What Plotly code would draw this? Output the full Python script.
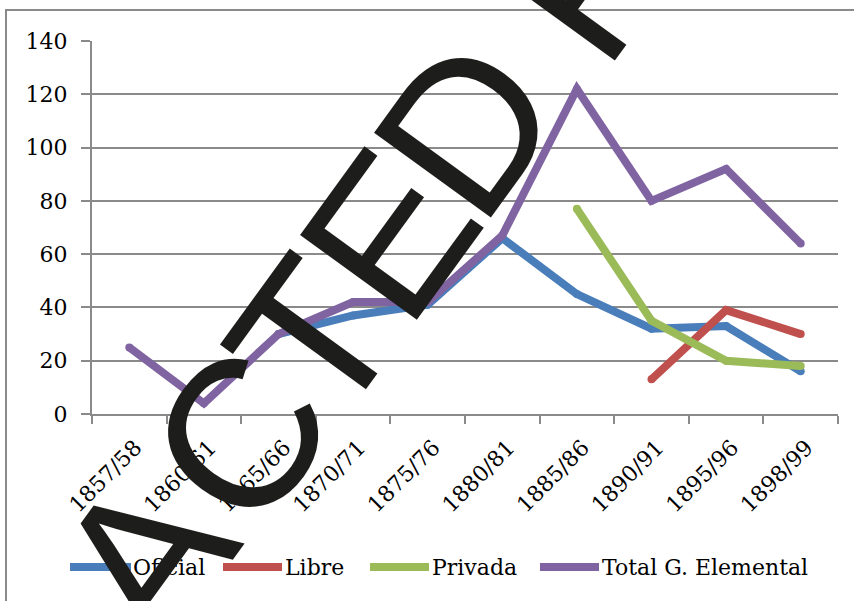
import math
import plotly.graph_objects as go

# School year periods and enrolment figures by type of school
periods = ["1857/58", "1860/61", "1865/66", "1870/71", "1875/76",
           "1880/81", "1885/86", "1890/91", "1895/96", "1898/99"]
oficial = [None, None, 30, 37, 41, 66, 45, 32, 33, 16]
libre = [None, None, None, None, None, None, None, 13, 39, 30]
privada = [None, None, None, None, None, None, 77, 35, 20, 18]
total = [25, 4, 30, 42, 42, 67, 122, 80, 92, 64]

series_names = ["Oficial", "Libre", "Privada", "Total G. Elemental"]
series_colors = ["#4A7EBB", "#C0504D", "#9BBB59", "#8064A2"]
y_ticks = [0, 20, 40, 60, 80, 100, 120, 140]

FONT = "DejaVu Serif"
GRID = "#8a8a8a"

# page geometry (pixels) used to place the frame, the legend and the stamp
W, H = 854, 601
ML, MR, MT, MB = 92, 16, 41, 187
PW, PH = W - ML - MR, H - MT - MB


def px_x(px):
    return (px - ML) / PW


def px_y(py):
    return (H - MB - py) / PH


fig = go.Figure()
for name, vals, col in zip(series_names, [oficial, libre, privada, total], series_colors):
    fig.add_trace(go.Scatter(
        x=periods, y=vals, name=name, mode="lines+markers",
        line=dict(color=col, width=8),
        marker=dict(color=col, size=8, line=dict(width=0)),
        connectgaps=False, showlegend=False,
    ))

shapes = [
    # outer chart frame
    dict(type="rect", xref="paper", yref="paper",
         x0=px_x(6), x1=px_x(W + 20), y0=px_y(H + 20), y1=px_y(10),
         line=dict(color=GRID, width=2), fillcolor="rgba(0,0,0,0)", layer="below"),
]

annotations = []
# legend drawn below the axis
legend_items = [(70, 131, 133), (223, 282, 285), (370, 429, 432), (540, 599, 602)]
ly = px_y(567)
for (a, b, t), name, col in zip(legend_items, series_names, series_colors):
    shapes.append(dict(type="line", xref="paper", yref="paper",
                       x0=px_x(a), x1=px_x(b), y0=ly, y1=ly,
                       line=dict(color=col, width=8)))
    annotations.append(dict(xref="paper", yref="paper", x=px_x(t - 2), y=ly,
                            xanchor="left", yanchor="middle", showarrow=False,
                            text=name, font=dict(family=FONT, size=22, color="black")))

# large redaction stamp running diagonally across the chart, one letter at a time:
# (letter, offset along the baseline, offset across it)
stamp_angle = 54
stamp_origin = (470, 130)
stamp_letters = [("A", -537, 12), ("C", -383, 5), ("T", -261, 4),
                 ("E", -132, 4), ("D", 0, 4), ("R", 200, -4)]
ux, uy = math.cos(math.radians(stamp_angle)), -math.sin(math.radians(stamp_angle))
vx, vy = -math.sin(math.radians(stamp_angle)), -math.cos(math.radians(stamp_angle))
for ch, t, u in stamp_letters:
    cx = stamp_origin[0] + t * ux + u * vx
    cy = stamp_origin[1] + t * uy + u * vy
    annotations.append(dict(
        xref="paper", yref="paper", x=px_x(cx), y=px_y(cy),
        xanchor="center", yanchor="middle", showarrow=False,
        text=ch, textangle=-stamp_angle, borderpad=0,
        font=dict(family="Liberation Sans", size=210, color="#1d1d1b"),
    ))

fig.update_layout(
    width=W, height=H,
    margin=dict(l=ML, r=MR, t=MT, b=MB, pad=0),
    paper_bgcolor="white", plot_bgcolor="white",
    font=dict(family=FONT, size=22, color="black"),
    shapes=shapes, annotations=annotations,
    xaxis=dict(
        type="category", categoryorder="array", categoryarray=periods,
        showgrid=False, showline=True, linecolor=GRID, linewidth=2,
        ticks="outside", tickson="boundaries", ticklen=8, tickcolor=GRID, tickwidth=2,
        tickangle=-45, tickfont=dict(family=FONT, size=22, color="black"),
        ticklabelstandoff=10, ticklabelshift=6, range=[-0.5, 9.5],
    ),
    yaxis=dict(
        range=[0, 140], tickvals=y_ticks, ticktext=[str(v) for v in y_ticks],
        showgrid=True, gridcolor=GRID, gridwidth=2, zeroline=False,
        showline=True, linecolor=GRID, linewidth=2,
        ticks="outside", ticklen=9, tickcolor=GRID, tickwidth=2,
        tickfont=dict(family=FONT, size=22, color="black"),
        ticklabelstandoff=9,
    ),
)

fig.write_html("out.html")
